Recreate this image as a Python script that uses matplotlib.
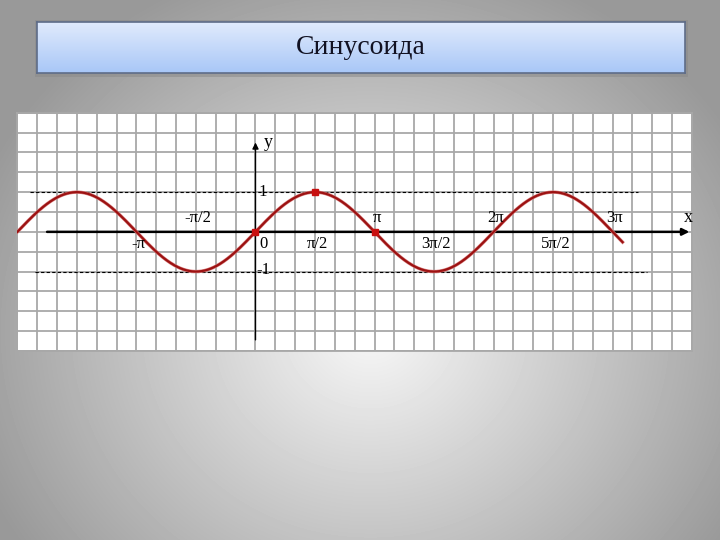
import numpy as np
import matplotlib.pyplot as plt
from matplotlib.patches import Rectangle

plt.rcParams['font.family'] = ['Liberation Serif', 'DejaVu Serif']

title = "Синусоида"

# curve domain (radians)
x_start = -2 * np.pi
x_end = 3 * np.pi + np.pi / 12

# marked points on the curve
dot_x = [0, np.pi / 2, np.pi]
dot_y = [0, 1, 0]

# axis labels
label_vals = [-np.pi, -np.pi / 2, 0, np.pi / 2, np.pi, 3 * np.pi / 2,
              2 * np.pi, 5 * np.pi / 2, 3 * np.pi]
label_txt = ['-π', '-π/2', '0', 'π/2', 'π', '3π/2', '2π', '5π/2', '3π']
label_above = [False, True, False, False, True, False, True, False, True]

fig = plt.figure(figsize=(7.2, 5.4), dpi=100)

# background radial gradient
bg = fig.add_axes([0, 0, 1, 1], zorder=-10)
yy, xx = np.mgrid[0:540, 0:720]
r = np.hypot((xx - 370) * 1.0, (yy - 330) * 1.1)
shade = np.clip(0.97 - 0.00088 * r, 0.6, 1)
bg.imshow(shade, cmap='gray', vmin=0, vmax=1, extent=[0, 720, 540, 0], aspect='auto')
bg.set_xlim(0, 720)
bg.set_ylim(540, 0)
bg.axis('off')

# title box with shadow
bg.add_patch(Rectangle((35, 20), 653, 57, color='#8a8a8a', alpha=0.55, lw=0))
tb = fig.add_axes([37 / 720, (540 - 73) / 540, 648 / 720, 51 / 540])
grad = np.linspace(0, 1, 100).reshape(-1, 1)
top = np.array([0.88, 0.92, 0.99])
bot = np.array([0.66, 0.78, 0.97])
img = top + (bot - top) * grad[..., None]
tb.imshow(img, extent=[0, 1, 0, 1], aspect='auto')
tb.set_xticks([])
tb.set_yticks([])
for s in tb.spines.values():
    s.set_color('#5e6c88')
    s.set_linewidth(1.2)
tb.text(0.5, 0.5, title, ha='center', va='center', fontsize=20, color='#111122',
        transform=tb.transAxes)

# graph paper
ax = fig.add_axes([17.4 / 720, (540 - 351) / 540, (692 - 17.4) / 720, (351 - 112.7) / 540])
ax.set_facecolor('white')
ax.set_xlim(-2 * np.pi, 11 * np.pi / 3)
ax.set_ylim(-3, 3)
ax.set_xticks(np.arange(-12, 23) * np.pi / 6)
ax.set_yticks(np.arange(-6, 7) * 0.5)
ax.grid(True, color='#a8a8a8', lw=1.3)
ax.tick_params(length=0, labelbottom=False, labelleft=False)
for s in ax.spines.values():
    s.set_color('#a8a8a8')
    s.set_linewidth(1.3)

# dashed levels y = 1 and y = -1
ax.hlines(1, -5.95, 10.09, colors='black', linestyles=(0, (3, 2)), lw=0.8, zorder=3)
ax.hlines(-1, -5.82, 10.33, colors='black', linestyles=(0, (3, 2)), lw=0.8, zorder=3)

# axes with arrows
ax.annotate('', xy=(11.45, 0), xytext=(-5.5, 0),
            arrowprops=dict(arrowstyle='-|>', lw=1.8, color='black', mutation_scale=10,
                            shrinkA=0, shrinkB=0), zorder=4)
ax.annotate('', xy=(0, 2.25), xytext=(0, -2.72),
            arrowprops=dict(arrowstyle='-|>', lw=1.0, color='black', mutation_scale=9,
                            shrinkA=0, shrinkB=0), zorder=4)

# sine curve
x = np.linspace(x_start, x_end, 800)
ax.plot(x, np.sin(x), color='#d88080', lw=2.4, zorder=5)
ax.plot(x, np.sin(x), color='#9c1212', lw=1.6, zorder=6)
ax.plot(dot_x, dot_y, 's', ms=4.5, color='#c81010', zorder=7)

# labels
fs = 12
for v, t, up in zip(label_vals, label_txt, label_above):
    if t == '0':
        ax.text(0.09, -0.3, t, ha='left', va='center', fontsize=fs, zorder=8)
        continue
    ax.text(v + 0.06, 0.35 if up else -0.3, t, ha='center', va='center', fontsize=fs, zorder=8)
ax.text(0.08, 1.0, '1', ha='left', va='center', fontsize=fs, zorder=8)
ax.text(0.02, -0.95, '-1', ha='left', va='center', fontsize=fs, zorder=8)
ax.text(0.22, 2.24, 'y', ha='left', va='center', fontsize=fs + 1, zorder=8)
ax.text(11.41, 0.35, 'x', ha='center', va='center', fontsize=fs + 1, zorder=8)

fig.savefig('out.png', dpi=100)
